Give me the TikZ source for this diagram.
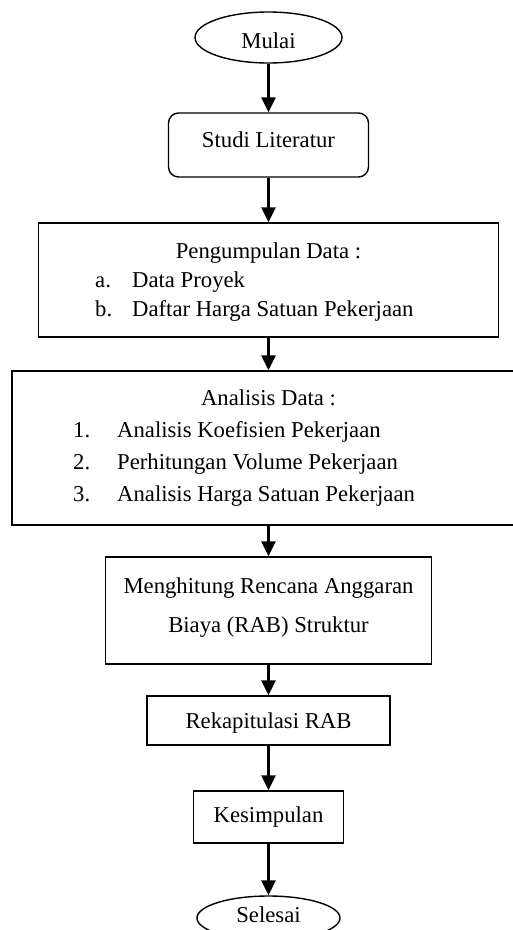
\documentclass[tikz,border=0pt]{standalone}
\usepackage{fontspec}
\setmainfont{Liberation Serif}
\usetikzlibrary{arrows.meta}
\usetikzlibrary{shapes.geometric}

\begin{document}
\begin{tikzpicture}[x=1pt,y=-1pt,
  font=\fontsize{22.7}{27}\selectfont,
  box/.style={draw, line width=1.4pt, inner sep=0pt},
  txt/.style={inner sep=0pt, text height=0.66em, text depth=0pt, yshift=-4pt},
  arr/.style={line width=2.6pt, -{Triangle[length=15pt,width=14pt]}}]
\useasboundingbox (0,0) rectangle (513,930);
% draws boxes
\node[box, ellipse, minimum width=147pt, minimum height=51pt] (mulai) at (268.5,37.5){};
\node[box, rounded corners=10pt, minimum width=200pt, minimum height=64pt] (studi) at (268.5,145){};
\node[box, minimum width=460pt, minimum height=114pt] (kumpul) at (268.5,280){};
\node[box, minimum width=513pt, minimum height=154pt] (analisis) at (268.5,448){};
\node[box, minimum width=326pt, minimum height=107pt] (rab) at (268.5,610.5){};
\node[box, minimum width=243pt, minimum height=49pt] (rekap) at (268.5,720.5){};
\node[box, minimum width=150pt, minimum height=52pt] (simpul) at (268.5,817){};
\node[box, ellipse, minimum width=143pt, minimum height=44pt] (selesai) at (268.5,918){};
% labels boxes
\node[txt] (mulai-t) at (268.5,41) {Mulai};
\node[txt] (studi-t) at (268.5,140) {Studi Literatur};
\node[txt] (kumpul-t) at (268.5,251) {Pengumpulan Data :};
\node[txt, anchor=west] (kumpul-a) at (95,280) {a.};
\node[txt, anchor=west] (kumpul-at) at (132,280) {Data Proyek};
\node[txt, anchor=west] (kumpul-b) at (95,309) {b.};
\node[txt, anchor=west] (kumpul-bt) at (132,309) {Daftar Harga Satuan Pekerjaan};
\node[txt] (analisis-t) at (268.5,398) {Analisis Data :};
\node[txt, anchor=west] (analisis-1) at (73,430) {1.};
\node[txt, anchor=west] (analisis-1t) at (117,430) {Analisis Koefisien Pekerjaan};
\node[txt, anchor=west] (analisis-2) at (73,462) {2.};
\node[txt, anchor=west] (analisis-2t) at (117,462) {Perhitungan Volume Pekerjaan};
\node[txt, anchor=west] (analisis-3) at (73,494) {3.};
\node[txt, anchor=west] (analisis-3t) at (117,494) {Analisis Harga Satuan Pekerjaan};
\node[txt] (rab-t1) at (268.5,586) {Menghitung Rencana Anggaran};
\node[txt] (rab-t2) at (268.5,625) {Biaya (RAB) Struktur};
\node[txt] (rekap-t) at (268.5,721) {Rekapitulasi RAB};
\node[txt] (simpul-t) at (268.5,815) {Kesimpulan};
\node[txt] (selesai-t) at (268.5,915) {Selesai};
% draws arrows
\draw[arr] (mulai) to (studi);
\draw[arr] (studi) to (kumpul);
\draw[arr] (kumpul) to (analisis);
\draw[arr] (analisis) to (rab);
\draw[arr] (rab) to (rekap);
\draw[arr] (rekap) to (simpul);
\draw[arr] (simpul) to (selesai);
\end{tikzpicture}
\end{document}
